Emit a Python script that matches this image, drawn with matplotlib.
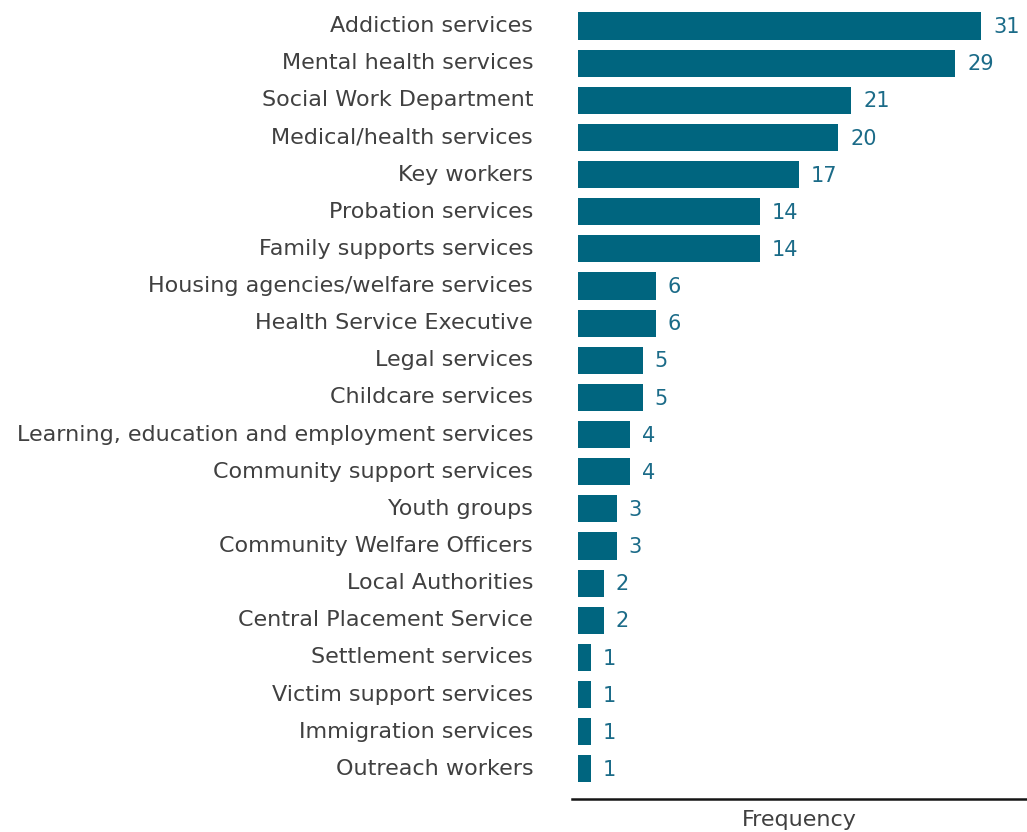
import matplotlib.pyplot as plt

services = [
    "Addiction services", "Mental health services", "Social Work Department",
    "Medical/health services", "Key workers", "Probation services",
    "Family supports services", "Housing agencies/welfare services",
    "Health Service Executive", "Legal services", "Childcare services",
    "Learning, education and employment services", "Community support services",
    "Youth groups", "Community Welfare Officers", "Local Authorities",
    "Central Placement Service", "Settlement services", "Victim support services",
    "Immigration services", "Outreach workers",
]
frequency = [31, 29, 21, 20, 17, 14, 14, 6, 6, 5, 5, 4, 4, 3, 3, 2, 2, 1, 1, 1, 1]

bar_color = "#00657f"
text_color = "#404040"
plt.rcParams['font.family'] = ['DejaVu Sans']

fig = plt.figure(figsize=(10.27, 8.32), dpi=100)
ax = fig.add_axes([0.557, 0.0397, 0.443, 0.9603])

ypos = list(range(len(services)))
ax.barh(ypos, frequency, height=0.73, color=bar_color)
for y, v in zip(ypos, frequency):
    ax.text(v + 0.9, y + 0.03, str(v), va='center', ha='left', fontsize=15, color="#1b6b88")

ax.set_xlim(-0.46, 34.5)
ax.set_ylim(20.81, -0.70)
ax.set_yticks(ypos)
ax.set_yticklabels(services, fontsize=16, color=text_color, va='center')
ax.tick_params(axis='y', length=0, pad=28)
ax.set_xticks([])
for side in ['top', 'right', 'left']:
    ax.spines[side].set_visible(False)
ax.spines['bottom'].set_linewidth(1.8)
ax.spines['bottom'].set_color('#151515')
ax.set_xlabel("Frequency", fontsize=16, color=text_color, labelpad=8)

fig.savefig("out.png", dpi=100)
